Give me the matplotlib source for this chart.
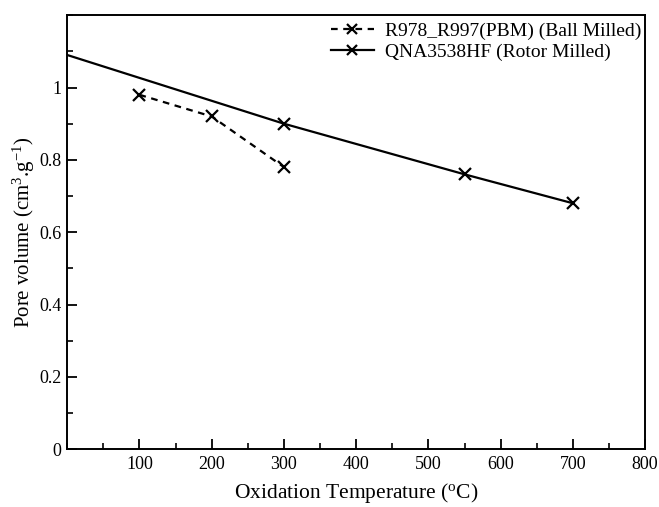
import matplotlib
matplotlib.use('Agg')
import matplotlib.pyplot as plt
from matplotlib.ticker import MultipleLocator

plt.rcParams['font.family'] = ['Liberation Serif', 'DejaVu Serif']
plt.rcParams['mathtext.fontset'] = 'custom'
plt.rcParams['mathtext.rm'] = 'Liberation Serif'
plt.rcParams['mathtext.it'] = 'Liberation Serif:italic'

# data
ball_temp = [100, 200, 300]
ball_vol = [0.98, 0.92, 0.78]
rotor_temp = [0, 300, 550, 700]
rotor_vol = [1.09, 0.90, 0.76, 0.68]

x_ticks = [100, 200, 300, 400, 500, 600, 700, 800]
y_ticks = [0, 0.2, 0.4, 0.6, 0.8, 1.0]
y_labels = ['0', '0.2', '0.4', '0.6', '0.8', '1']

fig = plt.figure(figsize=(6.59, 5.07), dpi=100)
ax = fig.add_axes([0.102, 0.114, 0.877, 0.856])

ax.plot(ball_temp, ball_vol, color='black', linestyle=(0, (3, 2.5)), linewidth=1.6,
        marker='x', markersize=8, markeredgewidth=1.6,
        label='R978_R997(PBM) (Ball Milled)')
ax.plot(rotor_temp, rotor_vol, color='black', linestyle='-', linewidth=1.6,
        marker='x', markersize=8, markeredgewidth=1.6, markevery=[1, 2, 3],
        label='QNA3538HF (Rotor Milled)')

ax.set_xlim(0, 800)
ax.set_ylim(0, 1.2)
ax.set_xticks(x_ticks)
ax.set_yticks(y_ticks)
ax.set_yticklabels(y_labels)
ax.xaxis.set_minor_locator(MultipleLocator(50))
ax.yaxis.set_minor_locator(MultipleLocator(0.1))
ax.tick_params(which='major', direction='in', length=7, width=1.3, labelsize=13,
               top=False, right=False, pad=5)
ax.tick_params(which='minor', direction='in', length=4, width=1.2, top=False, right=False)
ax.tick_params(axis='y', pad=4)
for s in ax.spines.values():
    s.set_linewidth(1.4)

ax.set_xlabel('Oxidation Temperature ($^{\\rm o}$C)', fontsize=15.5, labelpad=6)
ax.set_ylabel('Pore volume (cm$^3$.g$^{-1}$)', fontsize=15, labelpad=2)

leg = ax.legend(loc='upper right', frameon=False, fontsize=14, handlelength=2.2,
                handletextpad=0.6, borderaxespad=0.2, labelspacing=0.15,
                bbox_to_anchor=(1.014, 1.01))
for h in leg.legend_handles:
    h.set_markersize(6.5)

fig.savefig('out.png', dpi=100)
